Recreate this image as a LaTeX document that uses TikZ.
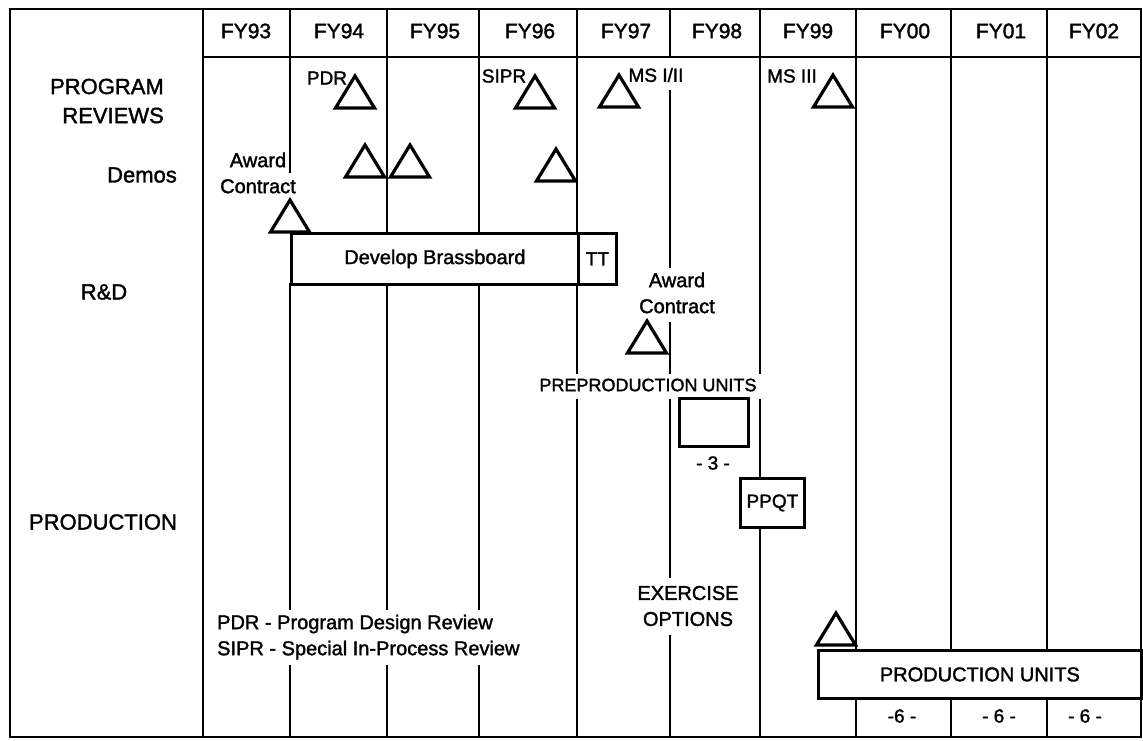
\documentclass[tikz,border=0pt]{standalone}
\usepackage{fontspec}
\setmainfont{Liberation Sans}[BoldFont={Liberation Sans},BoldFeatures={FakeBold=1.6}]
\begin{document}
\begin{tikzpicture}[x=1pt,y=-1pt,
  grid/.style={line width=2.8pt},
  box/.style={draw,line width=2.8pt,fill=white,inner sep=0pt},
  biglbl/.style={font=\fontsize{22}{29}\selectfont\bfseries,inner sep=0pt},
  lbl/.style={font=\fontsize{20}{26}\selectfont\bfseries,inner sep=0pt},
  smalllbl/.style={font=\fontsize{19}{24}\selectfont\bfseries,inner sep=0pt},
  fylbl/.style={font=\fontsize{21}{24}\selectfont\bfseries,inner sep=0pt},
  milestone/.pic={\draw[line width=3.2pt] (-19.5,0) -- (0,-32) -- (19.5,0) -- cycle;}
]
\useasboundingbox (0,0) rectangle (1143,740);
% frame
\draw[grid] (10,9) rectangle (1141,737);
\draw[grid] (203,9) -- (203,737);
\draw[grid] (203,57) -- (1141,57);
% column lines (interrupted where texts sit)
\draw[grid] (290,9) -- (290,173) (290,283) -- (290,610) (290,665) -- (290,737);
\draw[grid] (387,9) -- (387,232) (387,283) -- (387,610) (387,665) -- (387,737);
\draw[grid] (479,9) -- (479,232) (479,283) -- (479,610) (479,665) -- (479,737);
\draw[grid] (577,9) -- (577,374) (577,399) -- (577,737);
\draw[grid] (670,9) -- (670,57) (670,90) -- (670,268) (670,322) -- (670,374) (670,399) -- (670,578) (670,635) -- (670,737);
\draw[grid] (760,9) -- (760,374) (760,399) -- (760,477) (760,526) -- (760,737);
\draw[grid] (856,9) -- (856,649) (856,697) -- (856,737);
\draw[grid] (951,9) -- (951,649) (951,697) -- (951,737);
\draw[grid] (1047,9) -- (1047,649) (1047,697) -- (1047,737);
% header
\node[fylbl] (fy93) at (246,31) {FY93};
\node[fylbl] (fy94) at (339,31) {FY94};
\node[fylbl] (fy95) at (435,31) {FY95};
\node[fylbl] (fy96) at (530,31) {FY96};
\node[fylbl] (fy97) at (626,31) {FY97};
\node[fylbl] (fy98) at (717,31) {FY98};
\node[fylbl] (fy99) at (808,31) {FY99};
\node[fylbl] (fy00) at (905,31) {FY00};
\node[fylbl] (fy01) at (1001,31) {FY01};
\node[fylbl] (fy02) at (1094,31) {FY02};
% row labels
\node[biglbl,align=right,anchor=east] (progrev) at (164,101) {PROGRAM\\REVIEWS};
\node[biglbl] (demos) at (142,175) {Demos};
\node[biglbl] (rd) at (104,292) {R\&D};
\node[biglbl] (prod) at (103,522) {PRODUCTION};
% milestones
\pic (tpdr) at (355,108) {milestone};
\pic (tsipr) at (535,108) {milestone};
\pic (tms12) at (619,107) {milestone};
\pic (tms3) at (833,107) {milestone};
\pic (tdemo1) at (365,177) {milestone};
\pic (tdemo2) at (410,177) {milestone};
\pic (tdemo3) at (556,181) {milestone};
\pic (taward1) at (290,232) {milestone};
\pic (taward2) at (647,353) {milestone};
\pic (tprod) at (836,645) {milestone};
\node[smalllbl] (pdr) at (327,78) {PDR};
\node[smalllbl] (sipr) at (504,76) {SIPR};
\node[smalllbl] (ms12) at (656,75) {MS I/II};
\node[smalllbl] (ms3) at (792,76) {MS III};
\node[lbl,align=center] (award1) at (258,173) {Award\\Contract};
\node[lbl,align=center] (award2) at (677,293) {Award\\Contract};
% boxes
\node[box,lbl,minimum width=287pt,minimum height=51pt,anchor=north west] (brass) at (290,232) {Develop Brassboard};
\node[box,smalllbl,minimum width=38pt,minimum height=51pt,anchor=north west] (tt) at (577,232) {TT};
\node[font=\fontsize{18}{22}\selectfont\bfseries,inner sep=0pt] (preprod) at (648,385) {PREPRODUCTION UNITS};
\node[box,minimum width=69pt,minimum height=48pt,anchor=north west] (prebox) at (678,397) {};
\node[smalllbl] (three) at (713,463) {- 3 -};
\node[box,smalllbl,minimum width=64pt,minimum height=49pt,anchor=north west] (ppqt) at (739,477) {PPQT};
\node[lbl,align=center] (exer) at (688,606) {EXERCISE\\OPTIONS};
\node[box,lbl,minimum width=323pt,minimum height=48pt,anchor=north west] (produnits) at (817,649) {PRODUCTION UNITS};
\node[smalllbl] (six1) at (902,716) {-6 -};
\node[smalllbl] (six2) at (999,716) {- 6 -};
\node[smalllbl] (six3) at (1085,716) {- 6 -};
% legend
\node[lbl,align=left,anchor=west] (legend) at (217,637) {PDR - Program Design Review\\SIPR - Special In-Process Review};
\end{tikzpicture}
\end{document}
